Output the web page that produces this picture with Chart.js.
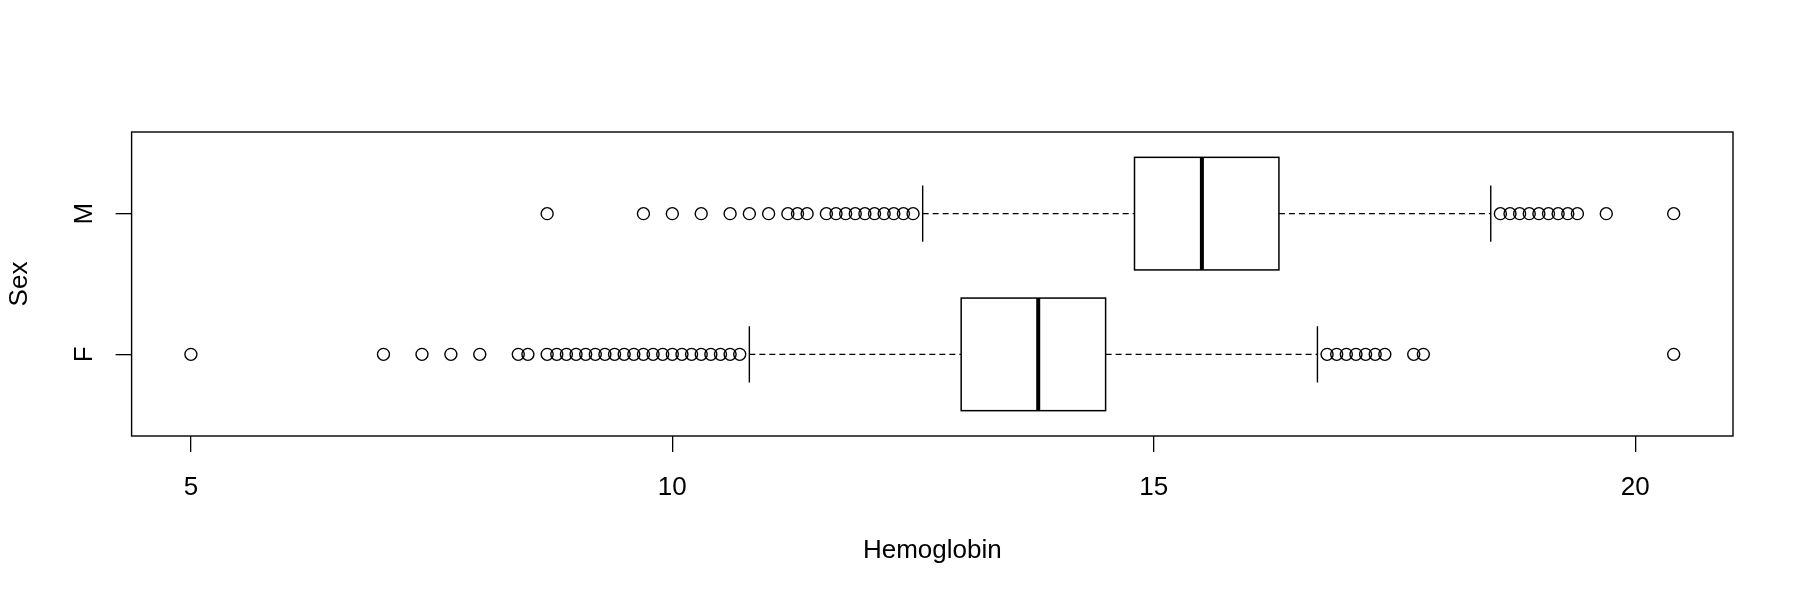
<!DOCTYPE html>
<html><head><meta charset="utf-8">
<script src="https://cdn.jsdelivr.net/npm/chart.js@4.4.1/dist/chart.umd.min.js"></script>
<style>html,body{margin:0;padding:0;background:#fff}#wrap{width:1800px;height:600px}</style>
</head><body><div id="wrap"><canvas id="c" width="1800" height="600"></canvas></div>
<script>
// ---- data ----
const categories = ['F', 'M'];
const whiskerLow = [10.8, 12.6];
const q1 = [13.0, 14.8];
const medians = [13.8, 15.5];
const q3 = [14.5, 16.3];
const whiskerHigh = [16.7, 18.5];
const outliersF = [5.0, 7.0, 7.4, 7.7, 8.0, 8.4, 8.5,
  8.7, 8.8, 8.9, 9.0, 9.1, 9.2, 9.3, 9.4, 9.5, 9.6, 9.7, 9.8, 9.9, 10.0,
  10.1, 10.2, 10.3, 10.4, 10.5, 10.6, 10.7,
  16.8, 16.9, 17.0, 17.1, 17.2, 17.3, 17.4, 17.7, 17.8, 20.4];
const outliersM = [8.7, 9.7, 10.0, 10.3, 10.6, 10.8, 11.0, 11.2, 11.3, 11.4,
  11.6, 11.7, 11.8, 11.9, 12.0, 12.1, 12.2, 12.3, 12.4, 12.5,
  18.6, 18.7, 18.8, 18.9, 19.0, 19.1, 19.2, 19.3, 19.4, 19.7, 20.4];
const xTicks = [5, 10, 15, 20];
const xRange = [4.384, 21.016];
const yRange = [0.42, 2.58];
const xTitle = 'Hemoglobin';
const yTitle = 'Sex';

const FONT = 'Liberation Sans, Arial, Helvetica, sans-serif';
const FS = 26;
Chart.defaults.color = '#000';
Chart.defaults.font.family = FONT;

const boxWidth = 0.8;

const boxPlugin = {
  id: 'rbox',
  beforeDraw(chart) {
    const ctx = chart.ctx;
    ctx.save();
    ctx.fillStyle = '#fff';
    ctx.fillRect(0, 0, chart.width, chart.height);
    ctx.restore();
  },
  beforeDatasetsDraw(chart) {
    const ctx = chart.ctx;
    const xs = chart.scales.x, ys = chart.scales.y;
    ctx.save();
    ctx.strokeStyle = '#000';
    categories.forEach((c, i) => {
      const pos = i + 1;
      const yc = ys.getPixelForValue(pos);
      const yTop = ys.getPixelForValue(pos + boxWidth / 2);
      const yBot = ys.getPixelForValue(pos - boxWidth / 2);
      const sTop = ys.getPixelForValue(pos + boxWidth / 4);
      const sBot = ys.getPixelForValue(pos - boxWidth / 4);
      const xl = xs.getPixelForValue(whiskerLow[i]);
      const x1 = xs.getPixelForValue(q1[i]);
      const xm = xs.getPixelForValue(medians[i]);
      const x3 = xs.getPixelForValue(q3[i]);
      const xh = xs.getPixelForValue(whiskerHigh[i]);
      // whiskers (dashed)
      ctx.lineWidth = 1.3;
      ctx.setLineDash([6, 4]);
      ctx.beginPath();
      ctx.moveTo(xl, yc); ctx.lineTo(x1, yc);
      ctx.moveTo(x3, yc); ctx.lineTo(xh, yc);
      ctx.stroke();
      ctx.setLineDash([]);
      // staples
      ctx.lineWidth = 1.4;
      ctx.beginPath();
      ctx.moveTo(xl, sTop); ctx.lineTo(xl, sBot);
      ctx.moveTo(xh, sTop); ctx.lineTo(xh, sBot);
      ctx.stroke();
      // box
      ctx.fillStyle = '#fff';
      ctx.fillRect(x1, yTop, x3 - x1, yBot - yTop);
      ctx.lineWidth = 1.5;
      ctx.strokeRect(x1, yTop, x3 - x1, yBot - yTop);
      // median
      ctx.lineWidth = 4;
      ctx.beginPath();
      ctx.moveTo(xm, yTop); ctx.lineTo(xm, yBot);
      ctx.stroke();
    });
    ctx.restore();
  },
  afterDraw(chart) {
    const a = chart.chartArea, ctx = chart.ctx;
    ctx.save();
    ctx.strokeStyle = '#000';
    ctx.lineWidth = 1.4;
    ctx.strokeRect(a.left, a.top, a.right - a.left, a.bottom - a.top);
    ctx.restore();
  }
};

const outlierSets = [outliersF, outliersM];

new Chart(document.getElementById('c'), {
  type: 'scatter',
  data: {
    datasets: categories.map((c, i) => ({
      label: c,
      data: outlierSets[i].map(v => ({ x: v, y: i + 1 })),
      pointStyle: 'circle',
      pointRadius: 6,
      pointHoverRadius: 6,
      pointBorderWidth: 1.4,
      borderColor: '#000',
      backgroundColor: 'rgba(0,0,0,0)',
      showLine: false
    }))
  },
  options: {
    responsive: false,
    animation: false,
    devicePixelRatio: 1,
    layout: { padding: { left: 0, top: 132, right: 67, bottom: 0 } },
    plugins: { legend: { display: false }, tooltip: { enabled: false } },
    events: [],
    scales: {
      x: {
        type: 'linear',
        min: xRange[0], max: xRange[1],
        afterBuildTicks: s => { s.ticks = xTicks.map(v => ({ value: v })); },
        afterFit: s => { s.height = 164; },
        grid: { display: true, drawOnChartArea: false, drawTicks: true, tickLength: 16, color: '#000', lineWidth: 1.3 },
        border: { display: false },
        ticks: { font: { size: FS }, padding: 20, maxRotation: 0, minRotation: 0, autoSkip: false, callback: v => String(v) },
        title: { display: true, text: xTitle, font: { size: FS }, padding: { top: 0, bottom: 33.5 } }
      },
      y: {
        type: 'linear',
        min: yRange[0], max: yRange[1],
        afterBuildTicks: s => { s.ticks = categories.map((c, i) => ({ value: i + 1 })); },
        afterFit: s => { s.width = 131.6; },
        grid: { display: true, drawOnChartArea: false, drawTicks: true, tickLength: 16, color: '#000', lineWidth: 1.3 },
        border: { display: false },
        ticks: { font: { size: FS }, padding: 20, minRotation: 90, maxRotation: 90, crossAlign: 'center', autoSkip: false,
                 callback: v => categories[Math.round(v) - 1] },
        title: { display: true, text: yTitle, font: { size: FS }, padding: { top: 4.7, bottom: 0 } }
      }
    }
  },
  plugins: [boxPlugin]
});
</script></body></html>
